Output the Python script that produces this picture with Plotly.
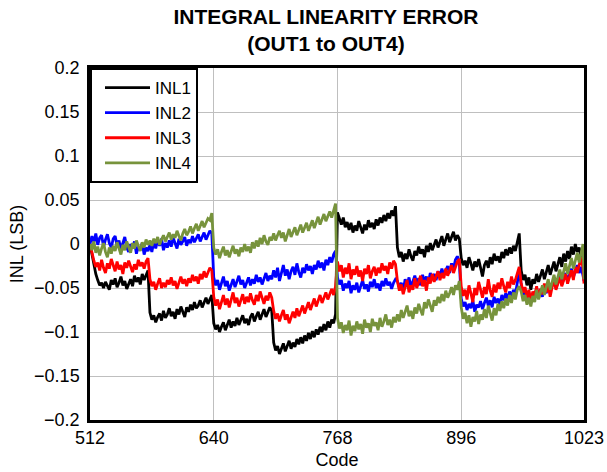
import plotly.graph_objects as go

# Codes sampled every 2 LSB, plus the last code 1023
CODES = list(range(512, 1023, 2)) + [1023]

INL1 = [
    # 512-572
    0.000, -0.012, -0.024, -0.034, -0.041, -0.047, -0.044, -0.050, -0.043, -0.048,
    -0.052, -0.041, -0.046, -0.039, -0.049, -0.044, -0.037, -0.047, -0.042, -0.051,
    -0.045, -0.040, -0.048, -0.036, -0.043, -0.038, -0.046, -0.034, -0.041, -0.036,
    -0.030,
    # 574-638
    -0.078, -0.086, -0.081, -0.089, -0.083, -0.079, -0.087, -0.076, -0.084, -0.080,
    -0.073, -0.082, -0.077, -0.085, -0.074, -0.080, -0.071, -0.078, -0.083, -0.072,
    -0.077, -0.069, -0.075, -0.066, -0.073, -0.070, -0.064, -0.072, -0.067, -0.061,
    -0.068, -0.062, -0.058,
    # 640-700
    -0.090, -0.097, -0.092, -0.100, -0.094, -0.089, -0.098, -0.091, -0.086, -0.095,
    -0.088, -0.093, -0.084, -0.092, -0.087, -0.081, -0.090, -0.085, -0.092, -0.083,
    -0.079, -0.088, -0.082, -0.077, -0.086, -0.080, -0.074, -0.083, -0.078, -0.072,
    -0.076,
    # 702-766
    -0.112, -0.121, -0.116, -0.125, -0.118, -0.113, -0.122, -0.115, -0.110, -0.119,
    -0.112, -0.117, -0.108, -0.114, -0.106, -0.113, -0.104, -0.110, -0.101, -0.108,
    -0.099, -0.106, -0.097, -0.103, -0.094, -0.100, -0.091, -0.098, -0.088, -0.095,
    -0.086, -0.090, -0.080,
    # 768-828
    0.036, 0.028, 0.022, 0.030, 0.019, 0.025, 0.016, 0.024, 0.013, 0.021,
    0.015, 0.026, 0.018, 0.012, 0.022, 0.016, 0.027, 0.019, 0.024, 0.017,
    0.028, 0.021, 0.030, 0.024, 0.033, 0.026, 0.035, 0.029, 0.038, 0.032,
    0.043,
    # 830-894
    -0.004, -0.015, -0.009, -0.020, -0.011, -0.017, -0.006, -0.014, -0.019, -0.008,
    -0.013, -0.003, -0.011, -0.006, -0.015, -0.002, -0.009, 0.001, -0.007, -0.001,
    0.005, -0.004, 0.003, 0.009, -0.002, 0.006, 0.012, 0.002, 0.008, 0.014,
    0.004, 0.010, 0.006,
    # 896-956
    -0.016, -0.024, -0.019, -0.027, -0.015, -0.022, -0.030, -0.020, -0.026, -0.017,
    -0.028, -0.037, -0.024, -0.019, -0.027, -0.015, -0.023, -0.011, -0.019, -0.014,
    -0.021, -0.009, -0.016, -0.006, -0.013, -0.004, -0.011, -0.002, -0.008, 0.003,
    0.012,
    # 958-1023
    -0.030, -0.041, -0.035, -0.047, -0.038, -0.052, -0.040, -0.045, -0.034, -0.043,
    -0.036, -0.029, -0.040, -0.032, -0.024, -0.035, -0.027, -0.020, -0.031, -0.022,
    -0.015, -0.026, -0.011, -0.020, -0.008, -0.017, -0.003, -0.012, 0.000, -0.009,
    -0.004, -0.014, -0.022, -0.030,
]

INL2 = [
    0.000, 0.009, 0.002, 0.012, -0.001, 0.007, 0.010, -0.003, 0.005, 0.011,
    0.001, -0.004, 0.006, 0.009, -0.002, 0.004, -0.006, 0.002, 0.008, -0.004,
    -0.009, 0.000, -0.005, 0.003, -0.011, -0.003, -0.007, 0.001, -0.012, -0.004,
    -0.008,
    -0.001, -0.009, 0.003, -0.005, 0.005, -0.002, 0.006, -0.007, 0.001, -0.004,
    0.004, -0.003, 0.007, 0.000, -0.005, 0.006, -0.001, 0.003, 0.008, -0.002,
    0.005, 0.001, 0.009, 0.002, 0.006, 0.011, 0.003, 0.008, 0.013, 0.005,
    0.010, 0.015, 0.012,
    -0.038, -0.047, -0.041, -0.052, -0.044, -0.037, -0.048, -0.042, -0.053, -0.045,
    -0.040, -0.049, -0.043, -0.036, -0.046, -0.041, -0.050, -0.043, -0.038, -0.047,
    -0.040, -0.045, -0.035, -0.043, -0.038, -0.046, -0.039, -0.033, -0.042, -0.036,
    -0.040,
    -0.030, -0.038, -0.027, -0.042, -0.033, -0.024, -0.036, -0.029, -0.040, -0.031,
    -0.026, -0.035, -0.022, -0.032, -0.038, -0.027, -0.033, -0.023, -0.030, -0.025,
    -0.034, -0.024, -0.029, -0.019, -0.027, -0.021, -0.030, -0.018, -0.024, -0.015,
    -0.021, -0.012, -0.008,
    -0.038, -0.046, -0.041, -0.053, -0.045, -0.050, -0.042, -0.056, -0.047, -0.052,
    -0.044, -0.055, -0.048, -0.041, -0.051, -0.046, -0.054, -0.043, -0.049, -0.040,
    -0.050, -0.045, -0.053, -0.042, -0.048, -0.039, -0.047, -0.043, -0.051, -0.044,
    -0.040,
    -0.042, -0.050, -0.044, -0.053, -0.040, -0.047, -0.038, -0.049, -0.043, -0.036,
    -0.045, -0.039, -0.047, -0.035, -0.042, -0.037, -0.044, -0.033, -0.040, -0.034,
    -0.041, -0.031, -0.037, -0.028, -0.035, -0.030, -0.025, -0.033, -0.022, -0.028,
    -0.018, -0.014, -0.020,
    -0.062, -0.071, -0.066, -0.075, -0.068, -0.073, -0.064, -0.077, -0.069, -0.072,
    -0.065, -0.074, -0.067, -0.061, -0.070, -0.064, -0.072, -0.060, -0.067, -0.062,
    -0.069, -0.058, -0.064, -0.056, -0.063, -0.054, -0.060, -0.052, -0.058, -0.045,
    -0.030,
    -0.046, -0.058, -0.052, -0.063, -0.055, -0.066, -0.057, -0.061, -0.050, -0.059,
    -0.053, -0.060, -0.048, -0.056, -0.045, -0.053, -0.047, -0.041, -0.050, -0.043,
    -0.037, -0.046, -0.039, -0.033, -0.042, -0.035, -0.028, -0.038, -0.030, -0.024,
    -0.033, -0.026, -0.036, -0.042,
]

INL3 = [
    0.000, -0.010, -0.019, -0.026, -0.021, -0.030, -0.018, -0.027, -0.033, -0.022,
    -0.028, -0.017, -0.025, -0.031, -0.020, -0.029, -0.024, -0.034, -0.021, -0.027,
    -0.019, -0.026, -0.032, -0.023, -0.029, -0.018, -0.025, -0.021, -0.028, -0.020,
    -0.016,
    -0.040, -0.048, -0.043, -0.052, -0.045, -0.039, -0.050, -0.044, -0.049, -0.041,
    -0.046, -0.038, -0.047, -0.042, -0.051, -0.044, -0.037, -0.045, -0.040, -0.048,
    -0.039, -0.044, -0.035, -0.042, -0.037, -0.045, -0.034, -0.040, -0.031, -0.038,
    -0.033, -0.027, -0.030,
    -0.060, -0.070, -0.063, -0.074, -0.066, -0.058, -0.069, -0.062, -0.072, -0.064,
    -0.055, -0.067, -0.061, -0.071, -0.063, -0.057, -0.068, -0.060, -0.066, -0.056,
    -0.064, -0.069, -0.058, -0.065, -0.054, -0.062, -0.068, -0.059, -0.064, -0.055,
    -0.061,
    -0.076, -0.085, -0.079, -0.088, -0.081, -0.075, -0.086, -0.080, -0.090, -0.082,
    -0.077, -0.084, -0.073, -0.082, -0.076, -0.070, -0.079, -0.072, -0.066, -0.075,
    -0.068, -0.062, -0.071, -0.064, -0.058, -0.067, -0.060, -0.055, -0.063, -0.056,
    -0.051, -0.058, -0.048,
    -0.020, -0.031, -0.024, -0.038, -0.027, -0.034, -0.022, -0.040, -0.029, -0.035,
    -0.025, -0.037, -0.030, -0.042, -0.028, -0.034, -0.024, -0.039, -0.031, -0.026,
    -0.036, -0.027, -0.033, -0.022, -0.030, -0.025, -0.034, -0.021, -0.028, -0.019,
    -0.023,
    -0.042, -0.053, -0.046, -0.057, -0.048, -0.041, -0.055, -0.047, -0.052, -0.039,
    -0.050, -0.044, -0.036, -0.048, -0.041, -0.053, -0.038, -0.045, -0.034, -0.043,
    -0.037, -0.031, -0.041, -0.033, -0.039, -0.028, -0.036, -0.030, -0.024, -0.033,
    -0.026, -0.020, -0.017,
    -0.048, -0.059, -0.052, -0.063, -0.047, -0.056, -0.066, -0.050, -0.058, -0.043,
    -0.054, -0.061, -0.049, -0.057, -0.040, -0.053, -0.060, -0.046, -0.055, -0.044,
    -0.051, -0.039, -0.048, -0.055, -0.043, -0.050, -0.037, -0.046, -0.041, -0.032,
    -0.026,
    -0.044, -0.055, -0.049, -0.061, -0.052, -0.066, -0.054, -0.059, -0.048, -0.062,
    -0.051, -0.057, -0.045, -0.055, -0.047, -0.060, -0.049, -0.041, -0.052, -0.044,
    -0.038, -0.048, -0.040, -0.034, -0.045, -0.036, -0.030, -0.041, -0.026, -0.033,
    -0.022, -0.015, -0.028, -0.045,
]

INL4 = [
    0.000, -0.007, 0.003, -0.010, -0.003, -0.013, -0.005, 0.001, -0.009, -0.015,
    -0.004, -0.011, -0.002, -0.008, 0.002, -0.006, -0.012, -0.001, -0.007, 0.003,
    -0.004, -0.010, 0.001, -0.005, 0.004, -0.003, -0.008, 0.002, -0.004, 0.005,
    -0.001,
    0.004, -0.002, 0.006, 0.001, 0.008, -0.001, 0.005, 0.010, 0.003, 0.008,
    0.013, 0.005, 0.011, 0.007, 0.015, 0.009, 0.004, 0.012, 0.017, 0.010,
    0.014, 0.020, 0.012, 0.018, 0.023, 0.015, 0.021, 0.026, 0.019, 0.024,
    0.029, 0.027, 0.035,
    -0.004, -0.012, -0.006, -0.016, -0.009, -0.003, -0.013, -0.007, -0.015, -0.008,
    -0.002, -0.011, -0.006, -0.014, -0.004, -0.009, 0.000, -0.008, -0.003, -0.010,
    0.002, -0.005, 0.004, -0.003, 0.007, 0.000, 0.010, 0.003, -0.001, 0.008,
    0.004,
    0.012, 0.004, 0.010, 0.015, 0.007, 0.013, 0.003, 0.011, 0.017, 0.008,
    0.014, 0.019, 0.010, 0.016, 0.022, 0.013, 0.018, 0.024, 0.015, 0.021,
    0.027, 0.018, 0.025, 0.031, 0.022, 0.028, 0.034, 0.026, 0.032, 0.037,
    0.030, 0.040, 0.046,
    -0.084, -0.096, -0.089, -0.101, -0.092, -0.098, -0.087, -0.104, -0.093, -0.099,
    -0.088, -0.097, -0.091, -0.102, -0.086, -0.095, -0.090, -0.100, -0.085, -0.093,
    -0.089, -0.098, -0.084, -0.094, -0.088, -0.080, -0.092, -0.086, -0.095, -0.083,
    -0.089,
    -0.080, -0.088, -0.075, -0.084, -0.078, -0.070, -0.082, -0.076, -0.085, -0.072,
    -0.079, -0.068, -0.075, -0.081, -0.066, -0.073, -0.063, -0.071, -0.077, -0.064,
    -0.070, -0.060, -0.067, -0.057, -0.065, -0.053, -0.061, -0.056, -0.049, -0.058,
    -0.047, -0.052, -0.042,
    -0.072, -0.085, -0.078, -0.090, -0.081, -0.094, -0.083, -0.088, -0.076, -0.091,
    -0.080, -0.086, -0.074, -0.084, -0.070, -0.079, -0.087, -0.073, -0.081, -0.068,
    -0.076, -0.065, -0.073, -0.062, -0.070, -0.058, -0.067, -0.055, -0.063, -0.052,
    -0.048,
    -0.054, -0.065, -0.058, -0.069, -0.061, -0.071, -0.059, -0.066, -0.052, -0.063,
    -0.055, -0.047, -0.058, -0.049, -0.040, -0.052, -0.043, -0.035, -0.046, -0.037,
    -0.029, -0.040, -0.032, -0.022, -0.034, -0.025, -0.016, -0.028, -0.019, -0.010,
    -0.021, -0.008, 0.000, -0.040,
]

SERIES = [
    ("INL1", INL1, "#000000"),
    ("INL2", INL2, "#0000FF"),
    ("INL3", INL3, "#FF0000"),
    ("INL4", INL4, "#77933C"),
]

X_TICKS = [512, 640, 768, 896, 1023]
FONT = "Liberation Sans, Arial, sans-serif"

fig = go.Figure()
for name, vals, color in SERIES:
    fig.add_trace(go.Scatter(x=CODES, y=vals, mode="lines", name=name,
                             line=dict(color=color, width=2.8)))

fig.update_layout(
    width=607, height=472,
    margin=dict(l=90, r=23, t=68, b=52),
    paper_bgcolor="white", plot_bgcolor="white",
    font=dict(family=FONT, size=18, color="black"),
    title=dict(text="<b>INTEGRAL LINEARITY ERROR</b><br><b>(OUT1 to OUT4)</b>",
               x=0.537, xanchor="center", y=0.95, yanchor="top",
               font=dict(family=FONT, size=21, color="black")),
    showlegend=True,
    legend=dict(x=0, y=1, xanchor="left", yanchor="top",
                bordercolor="black", borderwidth=2, bgcolor="white",
                font=dict(family=FONT, size=17), tracegroupgap=0,
                itemwidth=45, indentation=8),
)
fig.update_xaxes(range=[512, 1023], tickvals=X_TICKS, ticktext=[str(v) for v in X_TICKS],
                 showgrid=True, gridcolor="#BFBFBF", gridwidth=1,
                 showline=True, linecolor="black", linewidth=2.5, mirror=True,
                 zeroline=False, ticks="", automargin=False,
                 title=dict(text="Code", standoff=7,
                            font=dict(family=FONT, size=18, color="black")))
fig.update_yaxes(range=[-0.2, 0.2], dtick=0.05, tick0=0,
                 showgrid=True, gridcolor="#BFBFBF", gridwidth=1,
                 showline=True, linecolor="black", linewidth=2.5, mirror=True,
                 zeroline=False, ticks="", automargin=False, ticklabelstandoff=4,
                 title=dict(text="INL (LSB)", standoff=6,
                            font=dict(family=FONT, size=18, color="black")))

fig.write_html("out.html", post_script="document.body.style.margin='0';",
               config={"displayModeBar": False})
